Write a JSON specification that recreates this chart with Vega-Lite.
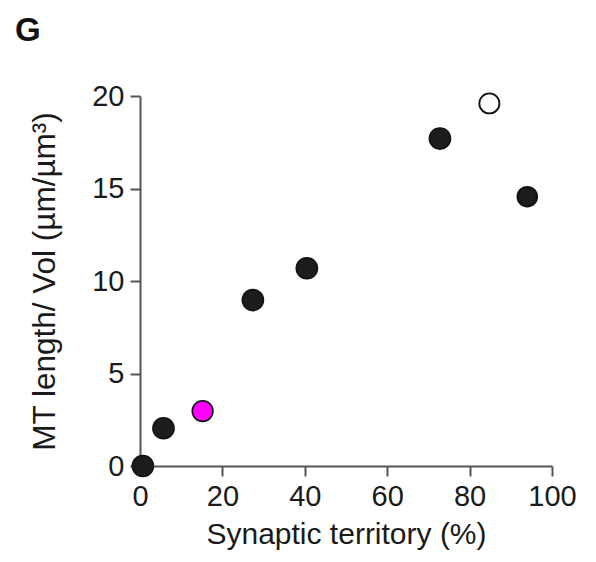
{
  "$schema": "https://vega.github.io/schema/vega-lite/v6.json",
  "width": 412,
  "height": 370,
  "autosize": "none",
  "padding": {"left": 140, "top": 96, "right": 44, "bottom": 96},
  "background": "white",
  "title": {
    "text": "G",
    "anchor": "start",
    "frame": "group",
    "dx": -125,
    "offset": 34,
    "fontSize": 33,
    "fontWeight": "bold",
    "font": "Liberation Sans",
    "color": "#111111"
  },
  "config": {
    "view": {"stroke": null},
    "font": "Liberation Sans",
    "axis": {
      "grid": false,
      "domainColor": "#555555",
      "domainWidth": 2,
      "tickColor": "#555555",
      "tickWidth": 2,
      "tickSize": 10,
      "labelFont": "Liberation Sans",
      "labelFontSize": 29,
      "labelColor": "#1a1a1a",
      "labelFlush": false,
      "labelOverlap": false,
      "titleFont": "Liberation Sans",
      "titleFontSize": 30,
      "titleFontWeight": "normal",
      "titleColor": "#1a1a1a"
    }
  },
  "data": {
    "values": [
      {"territory": 0.7, "mt": 0.0, "type": "A"},
      {"territory": 5.7, "mt": 2.04, "type": "A"},
      {"territory": 15.2, "mt": 2.97, "type": "B"},
      {"territory": 27.4, "mt": 8.97, "type": "A"},
      {"territory": 40.5, "mt": 10.69, "type": "A"},
      {"territory": 72.8, "mt": 17.7, "type": "A"},
      {"territory": 84.8, "mt": 19.6, "type": "C"},
      {"territory": 94.0, "mt": 14.56, "type": "D"}
    ]
  },
  "mark": {"type": "point", "shape": "circle", "opacity": 1},
  "encoding": {
    "x": {
      "field": "territory",
      "type": "quantitative",
      "scale": {"domain": [0, 100], "nice": false},
      "axis": {"values": [0, 20, 40, 60, 80, 100], "labelPadding": 6, "titlePadding": 8, "title": "Synaptic territory (%)"}
    },
    "y": {
      "field": "mt",
      "type": "quantitative",
      "scale": {"domain": [0, 20], "nice": false},
      "axis": {"values": [0, 5, 10, 15, 20], "labelPadding": 6, "titlePadding": 30, "titleFontSize": 31.5, "title": "MT length/ Vol (µm/µm³)"}
    },
    "fill": {
      "field": "type",
      "type": "nominal",
      "scale": {"domain": ["A", "B", "C", "D"], "range": ["#1c1c1c", "#ff00ff", "#ffffff", "#1c1c1c"]},
      "legend": null
    },
    "stroke": {
      "field": "type",
      "type": "nominal",
      "scale": {"domain": ["A", "B", "C", "D"], "range": ["#111111", "#111111", "#111111", "#111111"]},
      "legend": null
    },
    "strokeWidth": {
      "field": "type",
      "type": "nominal",
      "scale": {"domain": ["A", "B", "C", "D"], "range": [1.5, 2, 3, 1.5]},
      "legend": null
    },
    "size": {
      "field": "type",
      "type": "nominal",
      "scale": {"domain": ["A", "B", "C", "D"], "range": [450, 380, 360, 330]},
      "legend": null
    }
  }
}
